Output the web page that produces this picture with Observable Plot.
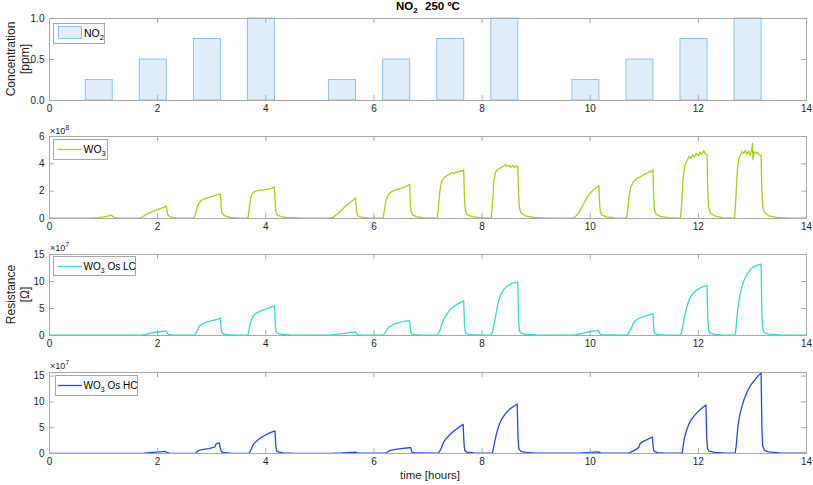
<!DOCTYPE html>
<html>
<head>
<meta charset="utf-8">
<script src="https://cdn.jsdelivr.net/npm/d3@7"></script>
<script src="https://cdn.jsdelivr.net/npm/@observablehq/plot@0.6"></script>
<style>
  body { margin: 0; background: #fff; }
  #root { position: relative; width: 813px; height: 485px; background: #fff; font-family: "Liberation Sans", Arial, Helvetica, sans-serif; }
  .panel { position: absolute; left: 0; }
  #overlay { position: absolute; left: 0; top: 0; pointer-events: none; }
</style>
</head>
<body>
<div id="root"></div>
<script>
// ---------- DATA ----------
const xTicks = [0, 2, 4, 6, 8, 10, 12, 14];

// NO2 exposure steps (hours, ppm)
const no2Start = [0.67, 1.67, 2.67, 3.67, 5.17, 6.17, 7.17, 8.17, 9.67, 10.67, 11.67, 12.67];
const no2End   = [1.17, 2.17, 3.17, 4.17, 5.67, 6.67, 7.67, 8.67, 10.17, 11.17, 12.17, 13.17];
const no2Conc  = [0.25, 0.5, 0.75, 1, 0.25, 0.5, 0.75, 1, 0.25, 0.5, 0.75, 1];

// WO3 resistance (x1e8 ohm): [time h, value]
const wo3 = [
  [0,0.02],[0.7,0.02],[0.8,0.04],[0.9,0.07],[1.0,0.12],[1.08,0.18],[1.13,0.24],[1.16,0.2],[1.2,0.06],[1.3,0.03],
  [1.67,0.02],[1.72,0.12],[1.8,0.32],[1.9,0.5],[2.0,0.65],[2.1,0.8],[2.16,0.9],[2.18,0.4],[2.2,0.2],[2.25,0.1],[2.35,0.05],[2.5,0.03],
  [2.67,0.02],[2.7,0.3],[2.73,0.8],[2.76,1.1],[2.8,1.3],[2.86,1.43],[2.95,1.55],[3.05,1.67],[3.16,1.8],[3.175,0.8],[3.19,0.4],[3.22,0.25],[3.27,0.15],[3.35,0.08],[3.5,0.04],
  [3.67,0.03],[3.69,0.6],[3.72,1.5],[3.75,1.85],[3.8,2.0],[3.9,2.08],[4.0,2.12],[4.1,2.2],[4.16,2.3],[4.175,1.0],[4.19,0.45],[4.22,0.25],[4.28,0.14],[4.38,0.08],[4.6,0.04],
  [5.17,0.02],[5.25,0.1],[5.35,0.4],[5.45,0.8],[5.55,1.15],[5.62,1.35],[5.66,1.5],[5.68,0.5],[5.7,0.2],[5.76,0.1],[5.9,0.05],
  [6.17,0.03],[6.19,0.5],[6.22,1.3],[6.26,1.7],[6.32,1.95],[6.4,2.1],[6.5,2.2],[6.6,2.35],[6.66,2.5],[6.675,1.0],[6.69,0.45],[6.72,0.25],[6.78,0.14],[6.9,0.07],
  [7.17,0.03],[7.19,0.6],[7.22,2.0],[7.25,2.7],[7.3,3.0],[7.35,3.15],[7.4,3.25],[7.44,3.35],[7.48,3.3],[7.52,3.42],[7.56,3.38],[7.6,3.5],[7.63,3.45],[7.66,3.55],[7.675,1.5],[7.69,0.6],[7.72,0.3],[7.8,0.15],[7.95,0.06],
  [8.17,0.03],[8.19,1.0],[8.22,2.8],[8.25,3.4],[8.3,3.6],[8.35,3.72],[8.4,3.82],[8.43,3.95],[8.46,3.8],[8.5,3.9],[8.53,3.75],[8.57,3.88],[8.6,3.72],[8.63,3.85],[8.66,3.8],[8.675,1.8],[8.69,0.8],[8.72,0.4],[8.8,0.2],[8.95,0.08],[9.2,0.03],
  [9.67,0.02],[9.72,0.1],[9.8,0.5],[9.88,1.1],[9.95,1.6],[10.02,1.95],[10.1,2.25],[10.16,2.4],[10.175,1.0],[10.19,0.45],[10.22,0.25],[10.3,0.12],[10.45,0.05],
  [10.67,0.03],[10.69,0.5],[10.72,1.6],[10.75,2.3],[10.8,2.7],[10.87,2.95],[10.95,3.1],[11.0,3.25],[11.05,3.3],[11.1,3.45],[11.13,3.4],[11.16,3.6],[11.175,1.5],[11.19,0.6],[11.22,0.3],[11.3,0.15],[11.45,0.06],
  [11.67,0.03],[11.69,1.0],[11.72,3.0],[11.75,3.9],[11.8,4.3],[11.83,4.55],[11.86,4.4],[11.9,4.65],[11.93,4.5],[11.96,4.75],[12.0,4.6],[12.03,4.85],[12.06,4.7],[12.1,4.95],[12.13,4.7],[12.16,4.65],[12.175,2.0],[12.19,0.8],[12.22,0.4],[12.3,0.2],[12.45,0.07],
  [12.67,0.03],[12.69,1.2],[12.72,3.5],[12.75,4.4],[12.78,4.65],[12.81,4.9],[12.84,4.75],[12.87,5.0],[12.9,4.7],[12.93,4.95],[12.96,4.6],[12.99,5.1],[13.0,5.5],[13.01,4.3],[13.03,4.9],[13.06,4.75],[13.09,4.85],[13.12,4.7],[13.16,4.6],[13.175,2.0],[13.19,0.9],[13.22,0.45],[13.3,0.2],[13.45,0.08],[13.7,0.03],[14,0.02]
];

// WO3 Os LC resistance (x1e7 ohm)
const wo3OsLC = [
  [0,0.05],[1.7,0.05],[1.78,0.2],[1.88,0.45],[2.0,0.65],[2.1,0.78],[2.16,0.85],[2.18,0.4],[2.2,0.2],[2.3,0.08],
  [2.67,0.05],[2.7,0.35],[2.74,1.0],[2.77,1.7],[2.82,2.1],[2.9,2.45],[3.0,2.75],[3.1,3.0],[3.16,3.2],[3.175,1.2],[3.19,0.5],[3.22,0.3],[3.3,0.15],[3.45,0.07],
  [3.67,0.05],[3.69,1.0],[3.71,2.2],[3.74,3.0],[3.77,3.6],[3.82,4.1],[3.9,4.5],[4.0,4.9],[4.08,5.2],[4.16,5.5],[4.175,2.0],[4.19,0.7],[4.22,0.4],[4.3,0.22],[4.45,0.1],[4.7,0.06],
  [5.17,0.05],[5.3,0.2],[5.45,0.38],[5.58,0.55],[5.66,0.67],[5.69,0.15],[5.8,0.07],
  [6.17,0.05],[6.2,0.4],[6.24,1.1],[6.28,1.6],[6.35,2.0],[6.45,2.35],[6.55,2.6],[6.66,2.75],[6.675,1.0],[6.69,0.35],[6.75,0.15],[6.9,0.07],
  [7.17,0.05],[7.2,0.5],[7.23,1.2],[7.26,2.2],[7.3,3.1],[7.35,4.0],[7.41,4.8],[7.47,5.3],[7.53,5.75],[7.6,6.1],[7.66,6.4],[7.675,2.0],[7.69,0.6],[7.72,0.3],[7.8,0.15],[8.0,0.07],
  [8.17,0.05],[8.19,0.6],[8.22,2.0],[8.25,3.6],[8.28,5.2],[8.31,6.6],[8.35,7.7],[8.4,8.5],[8.46,9.1],[8.55,9.6],[8.66,9.9],[8.675,3.0],[8.69,0.9],[8.72,0.45],[8.8,0.22],[9.0,0.1],[9.3,0.05],
  [9.7,0.05],[9.85,0.4],[10.0,0.7],[10.1,0.85],[10.15,0.95],[10.18,0.3],[10.22,0.1],
  [10.67,0.05],[10.7,0.3],[10.74,1.0],[10.77,1.6],[10.8,2.3],[10.84,2.8],[10.9,3.15],[11.0,3.55],[11.08,3.8],[11.16,4.0],[11.175,1.5],[11.19,0.45],[11.23,0.2],[11.35,0.08],
  [11.67,0.05],[11.69,0.6],[11.72,2.2],[11.75,3.8],[11.78,5.0],[11.82,6.3],[11.86,7.3],[11.92,8.0],[11.98,8.5],[12.05,8.9],[12.16,9.3],[12.175,3.0],[12.19,0.9],[12.22,0.45],[12.3,0.22],[12.45,0.1],
  [12.67,0.05],[12.69,0.6],[12.71,2.8],[12.73,5.0],[12.76,7.0],[12.8,8.8],[12.84,10.1],[12.9,11.3],[12.96,12.2],[13.02,12.7],[13.08,13.0],[13.16,13.2],[13.175,4.0],[13.19,1.2],[13.22,0.55],[13.3,0.25],[13.5,0.1],[13.8,0.06],[14,0.05]
];

// WO3 Os HC resistance (x1e7 ohm)
const wo3OsHC = [
  [0,0.03],[1.75,0.05],[1.9,0.2],[2.05,0.33],[2.14,0.4],[2.17,0.2],[2.22,0.07],[2.4,0.03],
  [2.7,0.03],[2.73,0.35],[2.76,0.6],[2.85,0.8],[2.95,0.96],[3.06,1.28],[3.08,1.85],[3.11,2.0],[3.14,2.05],[3.16,1.0],[3.18,0.35],[3.22,0.15],[3.35,0.06],
  [3.69,0.03],[3.72,0.6],[3.75,1.3],[3.78,1.9],[3.84,2.5],[3.9,3.0],[3.96,3.4],[4.05,3.9],[4.17,4.4],[4.185,1.5],[4.2,0.5],[4.24,0.25],[4.32,0.12],[4.5,0.05],
  [5.2,0.03],[5.4,0.1],[5.6,0.22],[5.67,0.25],[5.7,0.06],
  [6.22,0.05],[6.25,0.3],[6.3,0.6],[6.4,0.8],[6.5,0.95],[6.6,1.07],[6.68,1.15],[6.7,0.3],[6.75,0.1],
  [7.19,0.05],[7.22,0.5],[7.25,1.15],[7.28,2.0],[7.32,2.7],[7.38,3.4],[7.46,4.2],[7.56,5.0],[7.65,5.64],[7.665,2.0],[7.68,0.6],[7.72,0.25],[7.85,0.1],
  [8.19,0.05],[8.21,1.0],[8.24,2.6],[8.27,4.0],[8.31,5.4],[8.36,6.6],[8.43,7.7],[8.51,8.6],[8.58,9.1],[8.65,9.6],[8.665,3.0],[8.68,0.9],[8.72,0.4],[8.8,0.2],[9.0,0.08],
  [9.8,0.05],[10.0,0.2],[10.15,0.3],[10.2,0.06],
  [10.7,0.05],[10.78,0.4],[10.85,0.8],[10.9,1.2],[10.92,1.9],[10.97,2.3],[11.05,2.7],[11.15,3.2],[11.165,1.2],[11.18,0.4],[11.25,0.15],[11.4,0.06],
  [11.7,0.05],[11.72,1.5],[11.74,2.9],[11.78,4.4],[11.82,5.6],[11.86,6.4],[11.93,7.4],[12.01,8.3],[12.08,8.9],[12.14,9.4],[12.155,3.0],[12.17,0.9],[12.2,0.45],[12.3,0.2],[12.5,0.08],
  [12.68,0.05],[12.7,1.5],[12.73,5.1],[12.76,7.2],[12.8,8.9],[12.84,10.3],[12.9,11.9],[12.96,13.1],[13.0,13.7],[13.05,14.3],[13.1,15.0],[13.16,15.6],[13.175,5.0],[13.19,1.5],[13.22,0.6],[13.3,0.3],[13.5,0.12],[13.8,0.06],[14,0.05]
];

// ---------- STYLE ----------
const axisGray = "#a8a8a8";
const textColor = "#262626";
const fontFam = '"Liberation Sans", Arial, Helvetica, sans-serif';

const root = document.getElementById("root");

function makePanel({top, height, yDomain, yTicks, marks}) {
  const fh = height - 36;
  const fw = 813 - 49 - 7;
  const chart = Plot.plot({
    width: 813, height,
    marginLeft: 49, marginRight: 7, marginTop: 18, marginBottom: 18,
    style: {fontFamily: fontFam, fontSize: "10px", color: textColor, background: "transparent", overflow: "visible"},
    x: {domain: [0, 14]},
    y: {domain: yDomain},
    marks: [
      ...marks,
      Plot.frame({stroke: axisGray}),
      Plot.tickX(xTicks, {x: d => d, insetTop: fh - 5, stroke: axisGray}),
      Plot.tickX(xTicks, {x: d => d, insetBottom: fh - 5, stroke: axisGray}),
      Plot.tickY(yTicks, {y: d => d, insetRight: fw - 5, stroke: axisGray}),
      Plot.tickY(yTicks, {y: d => d, insetLeft: fw - 5, stroke: axisGray}),
      Plot.axisX(xTicks, {tickSize: 0, tickPadding: 4, label: null, fill: textColor}),
      Plot.axisY(yTicks, {tickSize: 0, tickPadding: 5, label: null, fill: textColor})
    ]
  });
  const div = document.createElement("div");
  div.className = "panel";
  div.style.top = top + "px";
  div.appendChild(chart);
  root.appendChild(div);
}

const no2Rows = no2Start.map((s, i) => ({s, e: no2End[i], c: no2Conc[i]}));

makePanel({
  top: 0, height: 118, yDomain: [0, 1], yTicks: [0, 0.5, 1],
  marks: [Plot.rectY(no2Rows, {x1: "s", x2: "e", y1: 0, y2: "c", fill: "#e1eef9", stroke: "#8fc3e8", strokeWidth: 1})]
});
makePanel({
  top: 118, height: 118, yDomain: [0, 6], yTicks: [0, 2, 4, 6],
  marks: [Plot.line(wo3, {x: d => d[0], y: d => d[1], stroke: "#a2d31c", strokeWidth: 1.3})]
});
makePanel({
  top: 236, height: 117, yDomain: [0, 15], yTicks: [0, 5, 10, 15],
  marks: [Plot.line(wo3OsLC, {x: d => d[0], y: d => d[1], stroke: "#3cd6cc", strokeWidth: 1.3})]
});
makePanel({
  top: 354, height: 117, yDomain: [0, 15.7], yTicks: [0, 5, 10, 15],
  marks: [Plot.line(wo3OsHC, {x: d => d[0], y: d => d[1], stroke: "#2c48df", strokeWidth: 1.3})]
});

// ---------- OVERLAY TEXT (title, labels, legends, exponents) ----------
const ns = "http://www.w3.org/2000/svg";
const ov = document.createElementNS(ns, "svg");
ov.setAttribute("id", "overlay");
ov.setAttribute("width", 813);
ov.setAttribute("height", 485);
ov.style.fontFamily = fontFam;
ov.innerHTML = `
  <text x="396" y="10" font-size="11.5" font-weight="bold" fill="#000">NO<tspan font-size="8" dy="3">2</tspan></text>
  <text x="425" y="10" font-size="11.5" font-weight="bold" fill="#000">250 ºC</text>

  <text transform="translate(15,59) rotate(-90)" text-anchor="middle" font-size="12" fill="${textColor}">Concentration</text>
  <text transform="translate(29,59) rotate(-90)" text-anchor="middle" font-size="12" fill="${textColor}">[ppm]</text>

  <text transform="translate(15,294.5) rotate(-90)" text-anchor="middle" font-size="12" fill="${textColor}">Resistance</text>
  <text transform="translate(29,294.5) rotate(-90)" text-anchor="middle" font-size="12" fill="${textColor}">[Ω]</text>

  <text x="430" y="479" text-anchor="middle" font-size="11.5" fill="${textColor}">time [hours]</text>

  <text x="50" y="134" font-size="9" fill="${textColor}">×10<tspan font-size="7" dy="-4">8</tspan></text>
  <text x="50" y="251" font-size="9" fill="${textColor}">×10<tspan font-size="7" dy="-4">7</tspan></text>
  <text x="50" y="369" font-size="9" fill="${textColor}">×10<tspan font-size="7" dy="-4">7</tspan></text>

  <rect x="53.5" y="23.5" width="51" height="20" fill="#fff" stroke="${axisGray}"/>
  <rect x="58.5" y="26.5" width="23" height="12" fill="#e1eef9" stroke="#8fc3e8"/>
  <text x="84" y="37" font-size="10.5" fill="#000">NO<tspan font-size="7.5" dy="3">2</tspan></text>

  <rect x="53.5" y="139.5" width="54" height="20" fill="#fff" stroke="${axisGray}"/>
  <line x1="58" x2="82" y1="149.5" y2="149.5" stroke="#a2d31c" stroke-width="1.3"/>
  <text x="83.5" y="153" font-size="10.5" fill="#000">WO<tspan font-size="7.5" dy="3">3</tspan></text>

  <rect x="53.5" y="256.5" width="82" height="19" fill="#fff" stroke="${axisGray}"/>
  <line x1="58" x2="82" y1="266.5" y2="266.5" stroke="#3cd6cc" stroke-width="1.3"/>
  <text x="83.5" y="270" font-size="10" fill="#000">WO<tspan font-size="7" dy="3">3</tspan><tspan dy="-3"> Os LC</tspan></text>

  <rect x="55.5" y="375.5" width="82" height="20" fill="#fff" stroke="${axisGray}"/>
  <line x1="58" x2="82" y1="385.5" y2="385.5" stroke="#2c48df" stroke-width="1.3"/>
  <text x="83.5" y="389" font-size="10" fill="#000">WO<tspan font-size="7" dy="3">3</tspan><tspan dy="-3"> Os HC</tspan></text>
`;
root.appendChild(ov);
</script>
</body>
</html>
